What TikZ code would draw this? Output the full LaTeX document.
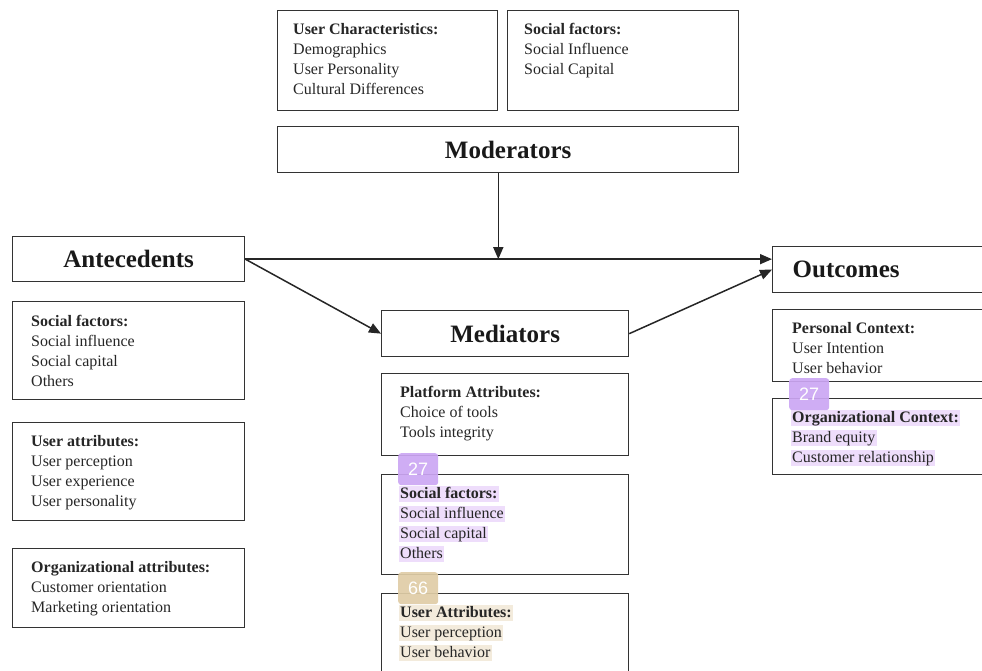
\documentclass[tikz,border=0pt]{standalone}
\usepackage{fontspec}
\setmainfont{Liberation Serif}
\newfontfamily\badgefont{Liberation Sans}
\usetikzlibrary{positioning,arrows.meta}
\definecolor{hlpurple}{HTML}{EEDDFB}
\definecolor{hltan}{HTML}{F3EBDC}
\definecolor{tagpurple}{HTML}{CBA6F3}
\definecolor{tagtan}{HTML}{DFCCA6}
\definecolor{boxline}{HTML}{333333}
\newcommand{\hd}[1]{\strut\textbf{#1}}
\newcommand{\hlt}[2]{\kern-1.5pt{\setlength{\fboxsep}{0pt}\colorbox{#1}{\rule[-4pt]{0pt}{16pt}\kern1.5pt#2\kern1.5pt}}}
\begin{document}
\begin{tikzpicture}[x=1pt,y=-1pt,
  box/.style={draw=boxline,line width=1.3pt,anchor=north west,inner sep=0pt},
  headbox/.style={box,text=black!90,font=\fontsize{25}{30}\selectfont\bfseries},
  items/.style={anchor=north west,align=left,inner sep=0pt,text=black!85,font=\fontsize{16}{20}\selectfont},
  tag/.style={fill=#1,fill opacity=0.92,text opacity=1,rounded corners=3pt,minimum width=40pt,minimum height=32pt,inner sep=0pt,text=white,font=\badgefont\fontsize{18}{18}\selectfont,anchor=north west},
  flow/.style={draw=black!85,line width=1.5pt,-{Triangle[length=12pt,width=10pt]}}]

\useasboundingbox (0,0) rectangle (982,671);

% moderators
\node[box,minimum width=220pt,minimum height=100pt] (usrchar) at (277,10) {};
\node[items,below right=10pt and 16pt of usrchar.north west] (usrchartxt) {\hd{User Characteristics:}\\Demographics\\User Personality\\Cultural Differences};
\node[box,minimum width=231pt,minimum height=100pt] (socmod) at (507,10) {};
\node[items,below right=10pt and 17pt of socmod.north west] (socmodtxt) {\hd{Social factors:}\\Social Influence\\Social Capital};
\node[headbox,minimum width=461pt,minimum height=46pt] (mod) at (277,126) {Moderators};

% antecedents
\node[headbox,minimum width=232pt,minimum height=45pt] (ante) at (12,236) {Antecedents};
\node[box,minimum width=232pt,minimum height=98pt] (antesoc) at (12,301) {};
\node[items,below right=11pt and 19pt of antesoc.north west] (antesoctxt) {\hd{Social factors:}\\Social influence\\Social capital\\Others};
\node[box,minimum width=232pt,minimum height=98pt] (anteusr) at (12,422) {};
\node[items,below right=10pt and 19pt of anteusr.north west] (anteusrtxt) {\hd{User attributes:}\\User perception\\User experience\\User personality};
\node[box,minimum width=232pt,minimum height=79pt] (anteorg) at (12,548) {};
\node[items,below right=10pt and 19pt of anteorg.north west] (anteorgtxt) {\hd{Organizational attributes:}\\Customer orientation\\Marketing orientation};

% mediators
\node[headbox,minimum width=247pt,minimum height=46pt] (med) at (381,310) {Mediators};
\node[box,minimum width=247pt,minimum height=82pt] (medplat) at (381,373) {};
\node[items,below right=10pt and 19pt of medplat.north west] (medplattxt) {\hd{Platform Attributes:}\\Choice of tools\\Tools integrity};
\node[box,minimum width=247pt,minimum height=100pt] (medsoc) at (381,474) {};
\node[items,below right=10pt and 19pt of medsoc.north west] (medsoctxt) {\strut\hlt{hlpurple}{\textbf{Social factors:}}\\\hlt{hlpurple}{Social influence}\\\hlt{hlpurple}{Social capital}\\\hlt{hlpurple}{Others}};
\node[box,minimum width=247pt,minimum height=100pt] (medusr) at (381,593) {};
\node[items,below right=10pt and 19pt of medusr.north west] (medusrtxt) {\strut\hlt{hltan}{\textbf{User Attributes:}}\\\hlt{hltan}{User perception}\\\hlt{hltan}{User behavior}};

% outcomes
\node[headbox,minimum width=230pt,minimum height=46pt,text width=190pt,align=left] (out) at (772,246) {Outcomes};
\node[box,minimum width=230pt,minimum height=72pt] (outpers) at (772,309) {};
\node[items,below right=10pt and 20pt of outpers.north west] (outperstxt) {\hd{Personal Context:}\\User Intention\\User behavior};
\node[box,minimum width=230pt,minimum height=76pt] (outorg) at (772,398) {};
\node[items,below right=10pt and 20pt of outorg.north west] (outorgtxt) {\strut\hlt{hlpurple}{\textbf{Organizational Context:}}\\\hlt{hlpurple}{Brand equity}\\\hlt{hlpurple}{Customer relationship}};

% connectors
\coordinate (modfoot) at (mod.south -| usrchar.east);
\draw[flow] (modfoot) -- (modfoot |- ante.east);
\draw[flow] (ante.east) -- (ante.east -| out.west);
\draw[flow] (ante.east) -- (med.west);
\draw[flow] (med.east) -- (out.west);

% tags
\node[tag=tagpurple] (tagsoc) at (398,453) {27};
\node[tag=tagtan] (tagusr) at (398,572) {66};
\node[tag=tagpurple] (tagorg) at (789,378) {27};
\end{tikzpicture}
\end{document}
